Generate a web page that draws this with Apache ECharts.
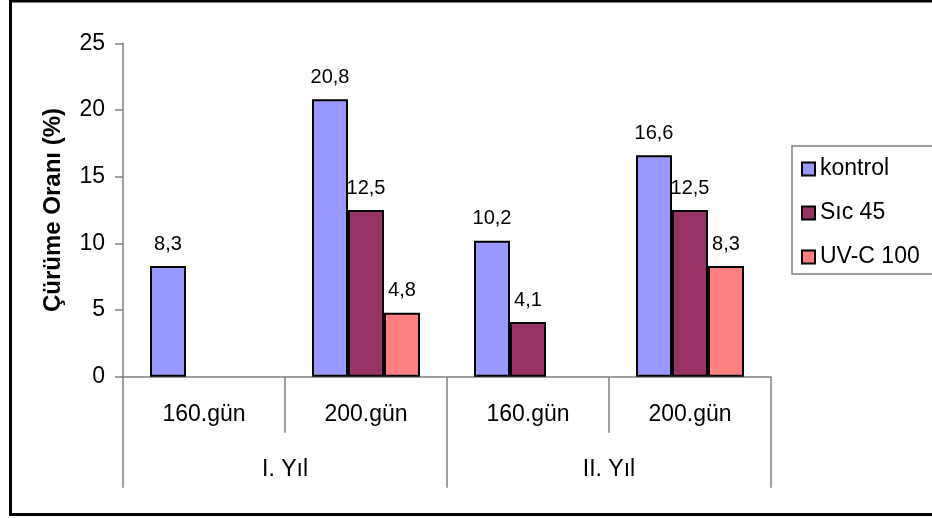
<!DOCTYPE html>
<html>
<head>
<meta charset="utf-8">
<script src="https://cdn.jsdelivr.net/npm/echarts@6/dist/echarts.min.js"></script>
<style>
  html, body { margin: 0; padding: 0; background: #fff; }
  #chart { width: 932px; height: 518px; }
</style>
</head>
<body>
<div id="chart"></div>
<script>
var days = ['160.gün', '200.gün', '160.gün', '200.gün'];
var years = ['I. Yıl', 'II. Yıl'];
var seriesNames = ['kontrol', 'Sıc 45', 'UV-C 100'];
var kontrol = [8.3, 20.8, 10.2, 16.6];
var sic45 = [null, 12.5, 4.1, 12.5];
var uvc100 = [null, 4.8, null, 8.3];
var colors = ['#9999FF', '#993366', '#FF8080'];

var font = 'Liberation Sans, Arial, sans-serif';
var chart = echarts.init(document.getElementById('chart'));

function barSeries(name, data, color) {
  return {
    name: name,
    type: 'bar',
    data: data,
    barWidth: 36,
    barGap: '0%',
    itemStyle: { color: color, borderColor: '#000', borderWidth: 2 },
    label: {
      show: true,
      position: 'top',
      distance: 12,
      color: '#000',
      fontFamily: font,
      fontSize: 20,
      formatter: function (p) {
        return String(p.value).replace('.', ',');
      }
    }
  };
}

chart.setOption({
  backgroundColor: '#ffffff',
  animation: false,
  graphic: [{
    type: 'rect',
    shape: { x: 10.5, y: 1, width: 940, height: 513.5 },
    style: { fill: 'none', stroke: '#000', lineWidth: 3 }
  }],
  grid: { left: 123, top: 43.3, right: 161, bottom: 141.3 },
  legend: {
    orient: 'vertical',
    left: 792,
    top: 146,
    padding: [11, 20, 5, 9],
    itemGap: 20,
    itemWidth: 13,
    itemHeight: 13,
    borderColor: '#808080',
    borderWidth: 1.5,
    icon: 'rect',
    data: seriesNames,
    textStyle: { fontFamily: font, fontSize: 23, color: '#000', lineHeight: 24 }
  },
  xAxis: [{
    type: 'category',
    data: days,
    axisLine: { show: true, lineStyle: { color: '#808080', width: 1.5 } },
    axisTick: { show: true, interval: 0, alignWithLabel: false, length: 56, lineStyle: { color: '#808080', width: 1.5 } },
    axisLabel: { interval: 0, margin: 26, color: '#000', fontFamily: font, fontSize: 23 }
  }, {
    type: 'category',
    data: years,
    position: 'bottom',
    axisLine: { show: false },
    axisTick: { show: true, interval: 0, length: 111, lineStyle: { color: '#808080', width: 1.5 } },
    axisLabel: { interval: 0, margin: 81, color: '#000', fontFamily: font, fontSize: 23 }
  }],
  yAxis: {
    type: 'value',
    min: 0,
    max: 25,
    interval: 5,
    name: 'Çürüme Oranı (%)',
    nameLocation: 'middle',
    nameRotate: 90,
    nameGap: 58,
    nameTextStyle: { fontFamily: font, fontSize: 24, fontWeight: 'bold', color: '#000' },
    axisLine: { show: true, lineStyle: { color: '#808080', width: 1.5 } },
    axisTick: { show: true, length: 8, lineStyle: { color: '#808080', width: 1.5 } },
    splitLine: { show: false },
    axisLabel: { margin: 18, color: '#000', fontFamily: font, fontSize: 23 }
  },
  series: [
    barSeries(seriesNames[0], kontrol, colors[0]),
    barSeries(seriesNames[1], sic45, colors[1]),
    barSeries(seriesNames[2], uvc100, colors[2])
  ]
});
</script>
</body>
</html>
